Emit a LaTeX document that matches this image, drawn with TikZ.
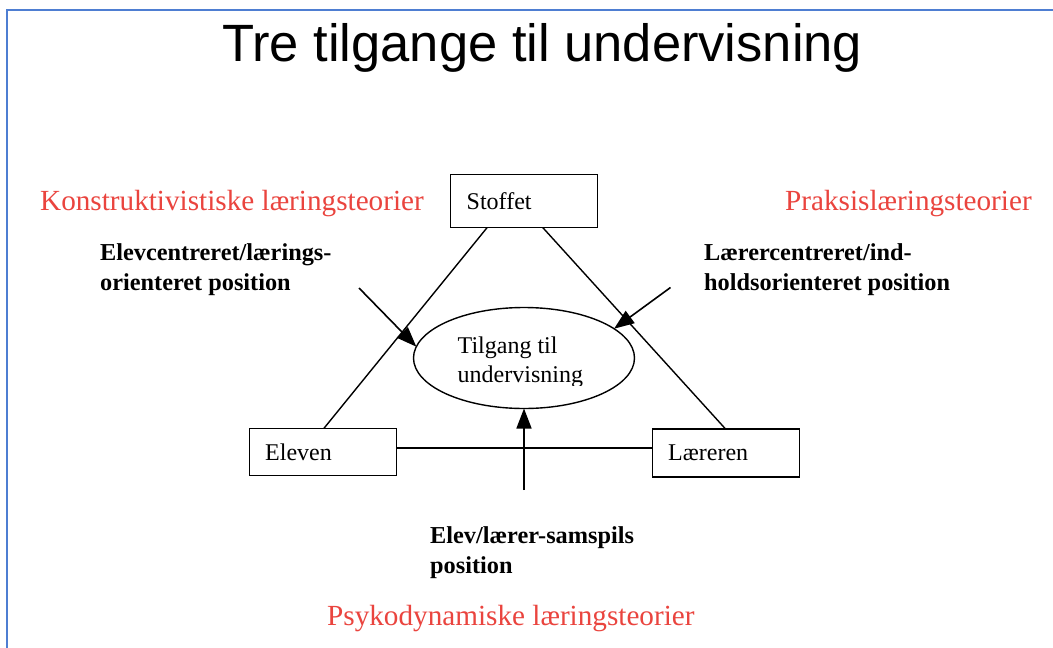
\documentclass[tikz,border=0pt]{standalone}
\usepackage{fontspec}
\setmainfont{Liberation Serif}
\newfontfamily\titlefont{Liberation Sans}
\usetikzlibrary{arrows.meta,shapes.geometric,calc}
\definecolor{frameblue}{RGB}{78,126,210}
\definecolor{theoryred}{RGB}{234,68,62}
\tikzset{
  pos box/.style={draw, line width=1.4pt, minimum width=147pt, inner xsep=16pt,
    inner ysep=0pt, outer sep=0pt, text width=115pt, align=left,
    font=\fontsize{24}{30}\selectfont},
  centre/.style={draw, ellipse, line width=1.4pt, minimum width=221pt,
    minimum height=101pt, inner sep=0pt, outer sep=0pt},
  side/.style={line width=1.4pt},
  push/.style={line width=1.6pt, -{Triangle[length=20pt,width=15pt]}},
  theory/.style={anchor=base west, inner sep=0pt, text=theoryred,
    font=\fontsize{29.2}{34}\selectfont},
  stance/.style={anchor=base west, inner sep=0pt, align=left,
    font=\fontsize{24.3}{30}\selectfont\bfseries},
}
\begin{document}
\begin{tikzpicture}[x=1pt,y=-1pt]
\useasboundingbox (0,0) rectangle (1053,648);
\fill[white] (0,0) rectangle (1053,648);

% slide frame
\draw[frameblue, line width=2.2pt] (7,660) -- (7,10) -- (1060,10);

% heading
\node[anchor=base west, inner sep=0pt, font=\titlefont\fontsize{52.5}{60}\selectfont]
  (title) at (222,61) {Tre tilgange til undervisning};

% the three corners
\node[pos box, minimum height=53pt] (stoffet) at (524.2,201) {Stoffet};
\node[pos box, minimum height=47.5pt] (eleven) at (322.7,452) {Eleven};
\node[pos box, minimum height=47.7pt] (laereren) at (725.7,453) {Læreren};

% triangle sides
\draw[side] ([xshift=-37pt]stoffet.south) -- ([xshift=1.3pt]eleven.north);
\draw[side] ([xshift=18.5pt]stoffet.south) -- (laereren.north);
\draw[side] ([yshift=4pt]eleven.east) -- ([yshift=4pt]eleven.east -| laereren.west);

% centre (multi-line nodes sit on the baseline of their last line)
\node[centre] (tilg) at (524,358) {};
\begin{scope}
  \clip (420,310) rectangle (630,385.5);
  \node[anchor=base west, inner sep=0pt, align=left,
    font=\fontsize{24}{29.7}\selectfont] (tilgtxt) at (457.5,382.7)
    {Tilgang til\\undervisning};
\end{scope}

% arrows towards the centre
\coordinate (lfrom) at (359,288);
\coordinate (rfrom) at (670.5,287.5);
\coordinate (bfrom) at (524,490);
\draw[push] (lfrom) -- (tilg.174);
\draw[push] (rfrom) -- (tilg.18.7);
\draw[push] (bfrom) -- (tilg.south);

% theory families
\node[theory] (konstr) at (40,210) {Konstruktivistiske læringsteorier};
\node[theory] (praksis) at (785,210) {Praksislæringsteorier};
\node[theory] (psyko) at (327,625) {Psykodynamiske læringsteorier};

% positions
\node[stance] (elevpos) at (100,290) {Elevcentreret/lærings-\\orienteret position};
\node[stance] (laererpos) at (704,290) {Lærercentreret/ind-\\holdsorienteret position};
\node[stance] (samspil) at (430,573) {Elev/lærer-samspils\\position};
\end{tikzpicture}
\end{document}
